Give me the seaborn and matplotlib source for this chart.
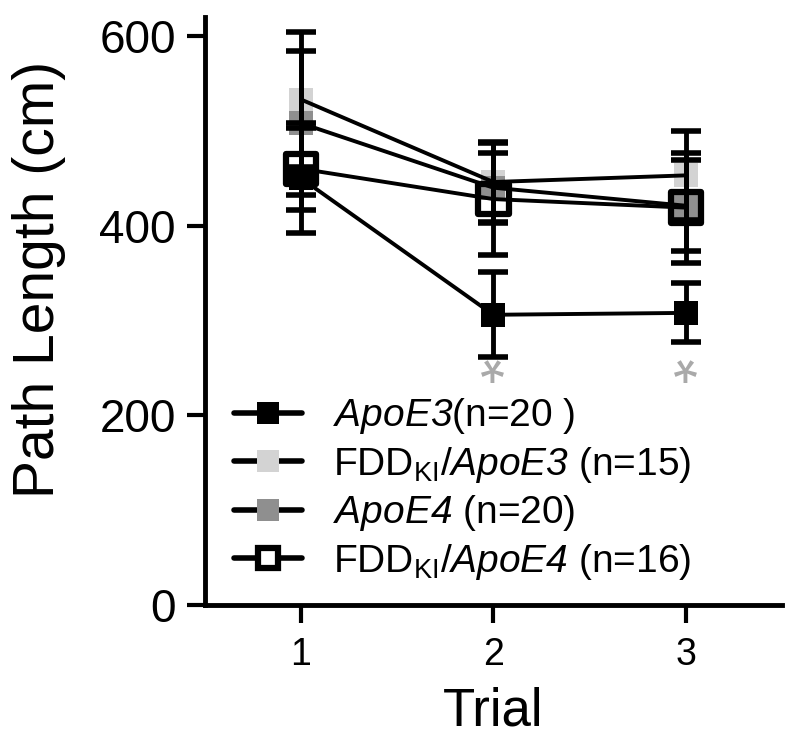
import matplotlib
matplotlib.use("Agg")
import matplotlib.pyplot as plt
import seaborn as sns
import pandas as pd
from matplotlib.lines import Line2D

# ---- data ----
trials = [1, 2, 3]
groups = ["ApoE3", "FDD/ApoE3", "ApoE4", "FDD/ApoE4"]
apoe3_mean = [450, 306, 308]
apoe3_sem = [58, 45, 31]
fdd_apoe3_mean = [533, 446, 453]
fdd_apoe3_sem = [71, 42, 47]
apoe4_mean = [508, 440, 421]
apoe4_sem = [76, 37, 48]
fdd_apoe4_mean = [460, 428, 419]
fdd_apoe4_sem = [43, 59, 58]
legend_labels = [
    r"$\mathbf{ApoE3}$(n=20 )",
    r"FDD$_{\mathrm{KI}}$/$\mathbf{ApoE3}$ (n=15)",
    r"$\mathbf{ApoE4}$ (n=20)",
    r"FDD$_{\mathrm{KI}}$/$\mathbf{ApoE4}$ (n=16)",
]
sig_trials = [2, 3]
sig_y = [282, 282]

means = [apoe3_mean, fdd_apoe3_mean, apoe4_mean, fdd_apoe4_mean]
sems = [apoe3_sem, fdd_apoe3_sem, apoe4_sem, fdd_apoe4_sem]
rows = []
for g, m, s in zip(groups, means, sems):
    for t, mv, sv in zip(trials, m, s):
        rows.append({"trial": t, "group": g, "mean": mv, "sem": sv})
df = pd.DataFrame(rows)

face = {"ApoE3": "black", "FDD/ApoE3": "#d3d3d3", "ApoE4": "#8f8f8f", "FDD/ApoE4": "none"}

sns.set_style("ticks")
plt.rcParams["font.family"] = ["Liberation Sans", "DejaVu Sans"]
plt.rcParams["mathtext.fontset"] = "custom"
plt.rcParams["mathtext.rm"] = "Liberation Sans"
plt.rcParams["mathtext.it"] = "Liberation Sans:italic"
plt.rcParams["mathtext.bf"] = "Liberation Sans:italic"
plt.rcParams["text.color"] = "black"
plt.rcParams["axes.labelcolor"] = "black"
plt.rcParams["axes.edgecolor"] = "black"
plt.rcParams["xtick.color"] = "black"
plt.rcParams["ytick.color"] = "black"

fig = plt.figure(figsize=(8, 7.49), dpi=100)
ax = fig.add_axes([0.256, 0.1923, 0.7215, 0.785])

# markers (drawn beneath lines and error bars)
for g in ["FDD/ApoE3", "ApoE4", "ApoE3"]:
    sub = df[df.group == g]
    sns.scatterplot(data=sub, x="trial", y="mean", ax=ax, marker="s", s=290,
                    color=face[g], edgecolor=face[g], linewidth=0, legend=False, zorder=2)
sub = df[df.group == "FDD/ApoE4"]
sns.scatterplot(data=sub, x="trial", y="mean", ax=ax, marker="s", s=480,
                facecolor="none", edgecolor="black", linewidth=4.5, legend=False, zorder=4)

# lines
sns.lineplot(data=df, x="trial", y="mean", hue="group", palette=["black"] * 4,
             linewidth=2.8, legend=False, ax=ax, zorder=3, sort=True)

# error bars
for g in groups:
    sub = df[df.group == g]
    ax.errorbar(sub["trial"], sub["mean"], yerr=sub["sem"], fmt="none",
                ecolor="black", elinewidth=3.5, capsize=11, capthick=4, zorder=3)

for t, y in zip(sig_trials, sig_y):
    ax.text(t, y, r"$\mathrm{*}$", color="#a9a9a9", fontsize=46,
            ha="center", va="baseline", rotation=180, rotation_mode="anchor",
            zorder=1)

ax.set_xlim(0.5, 3.5)
ax.set_ylim(0, 620)
ax.set_xticks(trials)
ax.set_yticks([0, 200, 400, 600])
ax.set_xlabel("Trial", fontsize=38, labelpad=10)
ax.set_ylabel("Path Length (cm)", fontsize=41, labelpad=14)
ax.yaxis.set_label_coords(-0.24, 0.553)
ax.tick_params(axis="x", labelsize=27, length=13, width=3, pad=10)
ax.tick_params(axis="y", labelsize=33, length=13, width=3, pad=8)
for sp in ["left", "bottom"]:
    ax.spines[sp].set_linewidth(3.5)
sns.despine(ax=ax)

handles = []
for g in groups:
    if g == "FDD/ApoE4":
        h = Line2D([], [], color="black", lw=4, marker="s", ms=15,
                   mfc="white", mec="black", mew=4.5)
    else:
        h = Line2D([], [], color="black", lw=4, marker="s", ms=16,
                   mfc=face[g], mec=face[g], mew=0)
    handles.append(h)
leg = ax.legend(handles, legend_labels, loc="upper left",
                bbox_to_anchor=(0.05, 0.355), frameon=False, fontsize=28,
                handlelength=1.75, handletextpad=0.8, labelspacing=0.22,
                borderpad=0, borderaxespad=0)

fig.savefig("out.png", dpi=100)
